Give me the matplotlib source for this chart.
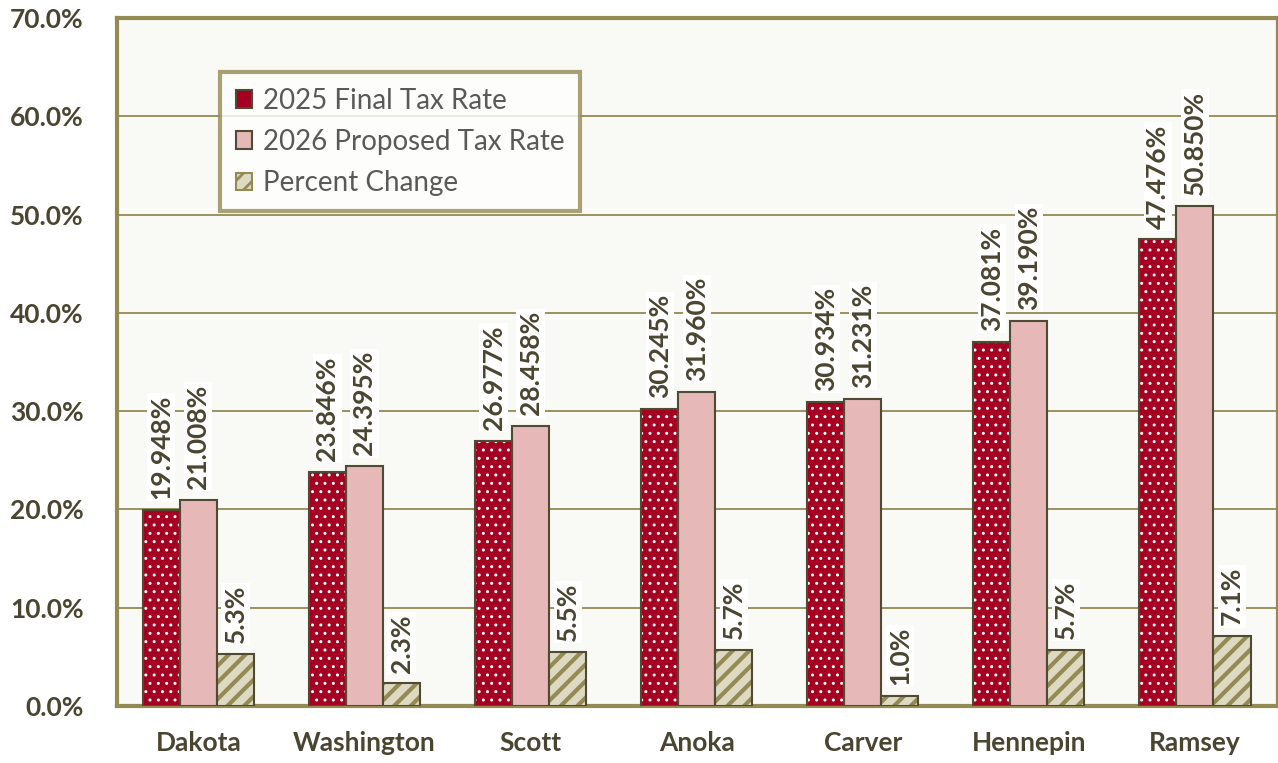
import numpy as np
import matplotlib.pyplot as plt
from matplotlib.patches import Patch

counties = ["Dakota", "Washington", "Scott", "Anoka", "Carver", "Hennepin", "Ramsey"]
rate_2025 = [19.948, 23.846, 26.977, 30.245, 30.934, 37.081, 47.476]
rate_2026 = [21.008, 24.395, 28.458, 31.960, 31.231, 39.190, 50.850]
pct_change = [5.3, 2.3, 5.5, 5.7, 1.0, 5.7, 7.1]

OLIVE = "#948A54"
DARK = "#4A4530"
EDGE = "#4F4A33"
RED = "#A50021"
PINK = "#E6B8B7"
BEIGE = "#DDD9C3"

plt.rcParams["font.family"] = ["Lato", "DejaVu Sans"]


def main():
    fig = plt.figure(figsize=(12.78, 7.63), dpi=100)
    ax = fig.add_axes([117 / 1278, 57 / 763, 1161 / 1278, 688 / 763])
    ax.set_facecolor("#F9F9F5")

    x = np.arange(len(counties))
    w = 0.223

    # dotted red bars: white hatch first, then dark outline
    plt.rcParams["hatch.linewidth"] = 1.0
    ax.bar(x - w, rate_2025, w, color=RED, edgecolor="white", hatch="..", linewidth=0, zorder=3)
    ax.bar(x - w, rate_2025, w, fill=False, edgecolor=EDGE, linewidth=1.5, zorder=4)

    ax.bar(x, rate_2026, w, color=PINK, edgecolor=EDGE, linewidth=1.5, zorder=3)

    plt.rcParams["hatch.linewidth"] = 3.0
    ax.bar(x + w, pct_change, w, color=BEIGE, edgecolor=OLIVE, hatch="//", linewidth=0, zorder=3)
    ax.bar(x + w, pct_change, w, fill=False, edgecolor=EDGE, linewidth=1.5, zorder=4)

    # legend proxies
    h1 = Patch(facecolor=RED, edgecolor=EDGE, linewidth=1.5)
    h2 = Patch(facecolor=PINK, edgecolor=EDGE, linewidth=1.5)
    plt.rcParams["hatch.linewidth"] = 2.0
    h3 = Patch(facecolor=BEIGE, edgecolor=OLIVE, hatch="//", linewidth=1.5)
    leg = ax.legend([h1, h2, h3], ["2025 Final Tax Rate", "2026 Proposed Tax Rate", "Percent Change"],
                    loc="upper left", bbox_to_anchor=(0.089, 0.921), fontsize=20,
                    frameon=True, fancybox=False, handlelength=0.6, handleheight=0.6,
                    handletextpad=0.4, borderpad=0.55, labelspacing=0.55, borderaxespad=0,
                    labelcolor="#595959")
    leg.get_frame().set_edgecolor(OLIVE)
    leg.get_frame().set_linewidth(3)
    leg.get_frame().set_facecolor("white")
    leg.set_zorder(6)

    def label(xs, vals, fmt):
        for xi, v in zip(xs, vals):
            ax.text(xi, v + 1.1, fmt.format(v), rotation=90, ha="center", va="bottom",
                    fontsize=19, fontweight="bold", color=DARK, zorder=5,
                    bbox=dict(facecolor="white", edgecolor="none", pad=1.5))

    label(x - w, rate_2025, "{:.3f}%")
    label(x, rate_2026, "{:.3f}%")
    label(x + w, pct_change, "{:.1f}%")

    ax.set_xlim(-0.49, 6.5)
    ax.set_ylim(0, 70)
    ax.set_yticks(np.arange(0, 71, 10))
    ax.set_yticklabels([f"{t:.1f}%" for t in range(0, 71, 10)])
    ax.set_xticks(x)
    ax.set_xticklabels(counties)
    ax.tick_params(length=0, labelsize=19, labelcolor=DARK)
    for lab in ax.get_xticklabels() + ax.get_yticklabels():
        lab.set_fontweight("bold")
    ax.tick_params(axis="x", pad=18)
    ax.tick_params(axis="y", pad=24)

    ax.grid(axis="y", color=OLIVE, linewidth=1.3, zorder=0)
    ax.set_axisbelow(True)
    for s in ax.spines.values():
        s.set_color(OLIVE)
        s.set_linewidth(3)

    fig.savefig("out.png", dpi=100)


if __name__ == "__main__":
    main()
